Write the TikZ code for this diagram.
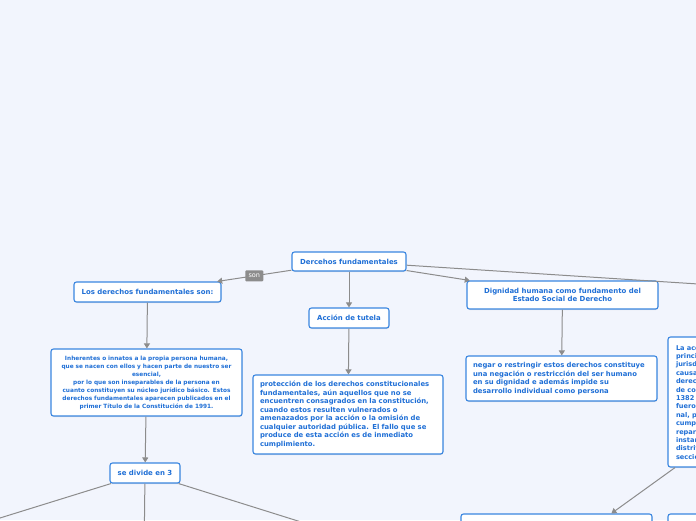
\documentclass[tikz,border=0pt]{standalone}
\usepackage{fontspec}
\setmainfont{DejaVu Sans}
\usetikzlibrary{arrows.meta,shadows}

\definecolor{fondo}{HTML}{F2F5FD}
\definecolor{borde}{HTML}{3A86E0}
\definecolor{texto}{HTML}{1F6FD6}
\definecolor{enlace}{HTML}{8C8C8C}

\begin{document}
\begin{tikzpicture}[x=1pt,y=-1pt,
	tema/.style={draw=borde, fill=white, line width=1.1pt, rounded corners=2.5pt,
		text=texto, font=\fontsize{6.95}{8.6}\selectfont\bfseries, align=center,
		inner sep=3pt, drop shadow={shadow xshift=0.4pt, shadow yshift=-1pt, opacity=0.2}},
	nota/.style={tema, font=\fontsize{6.85}{8.5}\selectfont\bfseries, align=left},
	enlace/.style={draw=enlace, line width=1pt, -{Triangle[width=6pt,length=5pt]}},
	etiqueta/.style={fill=enlace, text=white, rounded corners=1pt, inner xsep=3pt, inner ysep=3pt,
		minimum width=18pt, minimum height=11pt, font=\fontsize{6.5}{6.5}\selectfont}]
	% fondo y recorte
	\useasboundingbox (0,0) rectangle (696,520);
	\fill[fondo] (0,0) rectangle (696,520);
	\clip (0,0) rectangle (696,520);
	
	% Nodo central
	\node[tema, minimum width=114pt, minimum height=19pt] (dercehos) at (349,261.5) {Dercehos fundamentales};
	
	% Primer nivel
	\node[tema, minimum width=147pt, minimum height=20pt] (losder) at (147.5,292) {Los derechos fundamentales son:};
	\node[tema, minimum width=80pt, minimum height=20pt] (tutela) at (349,318) {Acción de tutela};
	\node[tema, minimum width=191pt, minimum height=28pt] (dignidad) at (562.5,295) {Dignidad humana como fundamento del\\Estado Social de Derecho};
	\coordinate (fuera) at (900,297);
	
	% Segundo nivel
	\node[tema, font=\fontsize{5.8}{8}\selectfont\bfseries, text width=185pt, minimum width=191pt, minimum height=67pt] (inherentes) at (146.5,382.5)
		{Inherentes o innatos a la propia persona humana,\\
		que se nacen con ellos y hacen parte de nuestro ser\\
		esencial,\\
		por lo que son inseparables de la persona en\\
		cuanto constituyen su núcleo jurídico básico. Estos\\
		derechos fundamentales aparecen publicados en el\\
		primer Título de la Constitución de 1991.};
	\node[nota, text width=176pt, minimum width=190pt, minimum height=79pt] (proteccion) at (348,414.5)
		{protección de los derechos constitucionales\\
		fundamentales, aún aquellos que no se\\
		encuentren consagrados en la constitución,\\
		cuando estos resulten vulnerados o\\
		amenazados por la acción o la omisión de\\
		cualquier autoridad pública. El fallo que se\\
		produce de esta acción es de inmediato\\
		cumplimiento.};
	\node[nota, text width=177pt, minimum width=191pt, minimum height=45pt] (negar) at (561.5,378.5)
		{negar o restringir estos derechos constituye\\
		una negación o restricción del ser humano\\
		en su dignidad e además impide su\\
		desarrollo individual como persona};
	\node[nota, font=\fontsize{6.6}{8.4}\selectfont\bfseries, text width=180pt, minimum width=196pt, minimum height=130pt] (laaccion) at (766,402)
		{La acción\\
		principio\\
		jurisdicción\\
		causa\\
		derechos\\
		de conformidad\\
		1382\\
		fuero\\
		nal, por\\
		cumplimiento\\
		reparto\\
		instancia\\
		distrito\\
		sección};
	
	% Tercer nivel
	\node[tema, minimum width=70pt, minimum height=20pt] (divide) at (145,473) {se divide en 3};
	\node[tema, minimum width=191pt, minimum height=78pt] (abajo1) at (556.5,553) {};
	\node[tema, minimum width=191pt, minimum height=78pt] (abajo2) at (763.5,553) {};
	\coordinate (rama1) at (-100,549);
	\coordinate (rama2) at (144,560);
	\coordinate (rama3) at (400,553);
	
	% Conectores
	\draw[enlace] (dercehos) -- node[etiqueta, pos=0.5] {son} (losder);
	\draw[enlace] (dercehos) -- (tutela);
	\draw[enlace] (dercehos) -- (dignidad);
	\draw[enlace] (dercehos) -- (fuera);
	\draw[enlace] (losder) -- (inherentes);
	\draw[enlace] (tutela) -- (proteccion);
	\draw[enlace] (dignidad) -- (negar);
	\draw[enlace] (inherentes) -- (divide);
	\draw[enlace] (laaccion) -- (abajo1);
	\draw[enlace] (divide) -- (rama1);
	\draw[enlace] (divide) -- (rama2);
	\draw[enlace] (divide) -- (rama3);
\end{tikzpicture}
\end{document}
